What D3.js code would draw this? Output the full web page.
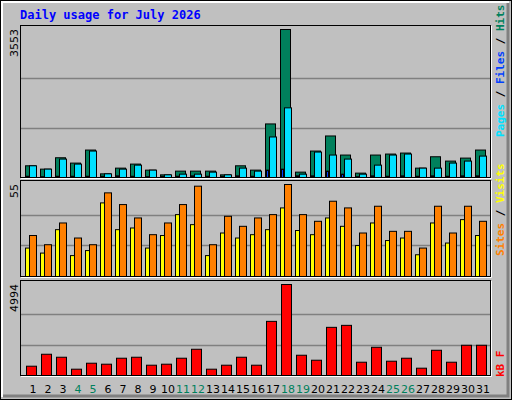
<!DOCTYPE html><html><head><meta charset="utf-8">
<script src="https://cdn.jsdelivr.net/npm/d3@7"></script>
<style>body{margin:0;background:#fff}svg{display:block}</style></head><body>
<script>
const days=d3.range(1,32);
const weekend=[4,5,11,12,18,19,25,26];
const hits=[281,201,474,346,659,88,225,322,177,64,153,153,153,64,281,177,1286,3553,129,635,997,539,105,539,563,587,225,498,394,466,659];
const pages=[281,201,442,322,635,88,201,297,177,64,80,80,129,64,225,153,973,1672,80,611,539,442,80,297,539,563,225,225,346,394,514];
const files=[30,20,30,30,30,30,40,30,20,30,30,40,30,30,40,30,177,200,40,40,153,80,20,40,30,40,30,40,30,40,40];
const sites=[24.5,19,32,23,19,50,43,35,25,32,43,54,19,36,30,35,37,55,37,33,45,41,26,42,27,27,17,42,26,42,33];
const visits=[17,14,28,12.5,15.5,44,28,29,17,24.5,37,31,12.5,26,23,25,28,41,27.5,25,35,30,18.5,32,21.5,23,13,32,20,34,24.5];
const kb=[510,1166,1002,346,674,620,948,1002,565,620,948,1440,346,565,1002,565,2971,4994,1112,838,2643,2752,729,1549,784,948,401,1385,729,1659,1659];
const maxHits=3553,maxSites=55,maxKb=4994;

const W=512,H=400;
const svg=d3.select("body").append("svg").attr("width",W).attr("height",H);
svg.append("rect").attr("x",0).attr("y",0).attr("width",W).attr("height",H).attr("fill","#c0c0c0");
svg.append("rect").attr("x",0.5).attr("y",0.5).attr("width",W-1).attr("height",H-1).attr("fill","none").attr("stroke","#000");
svg.append("path").attr("d","M2,397V2H509").attr("fill","none").attr("stroke","#fff").attr("stroke-width",2);
svg.append("path").attr("d","M3,396H508V3").attr("fill","none").attr("stroke","#808080").attr("stroke-width",3);
svg.append("text").attr("x",20).attr("y",19).text("Daily usage for July 2026")
 .attr("font-family","DejaVu Sans Mono").attr("font-weight","bold").attr("font-size",12).attr("fill","#0000ff");

const x=d3.scaleBand().domain(days).range([25,490]).paddingInner(0).paddingOuter(0);
function panel(y0,y1,max,label){
  svg.append("rect").attr("x",20.5).attr("y",y0+0.5).attr("width",470).attr("height",y1-y0).attr("fill","#c0c0c0").attr("stroke","#000");
  svg.append("path").attr("d",`M21,${y1+1.5}H491.5V${y0+1}`).attr("fill","none").attr("stroke","#fff");
  const y=d3.scaleLinear().domain([0,max]).range([y1,y0+4]);
  [1/3,2/3].forEach(f=>svg.append("line").attr("x1",21).attr("x2",490).attr("y1",Math.round(y(max*f))+0.5).attr("y2",Math.round(y(max*f))+0.5).attr("stroke","#808080").attr("stroke-width",1.5));
  svg.append("text").attr("transform",`translate(18,${y0+4}) rotate(-90)`).attr("text-anchor","end").text(label)
   .attr("font-family","DejaVu Sans").attr("font-size",11).attr("fill","#000");
  return y;
}
function bars(y,data,off,w,color){
  svg.append("g").selectAll("rect").data(data).join("rect")
   .attr("x",(d,i)=>x(days[i])+off+0.5).attr("width",w)
   .attr("y",d=>y(d)+0.5).attr("height",d=>y(0)-y(d)).attr("fill",color).attr("stroke","#000");
}
const y1=panel(25,177,maxHits,"3553");
bars(y1,hits,0,10,"#00805c");
bars(y1,files,1,2,"#0040ff");
bars(y1,pages,4,7,"#00e0ff");
const y2=panel(180,276,maxSites,"55");
bars(y2,visits,0,4,"#ffff00");
bars(y2,sites,4,7,"#ff8000");
const y3=panel(280,375,maxKb,"4994");
bars(y3,kb,1,10,"#ff0000");

svg.append("g").selectAll("text").data(days).join("text")
 .attr("x",d=>x(d)+8).attr("y",393).attr("text-anchor","middle").text(d=>d)
 .attr("font-family","DejaVu Sans").attr("font-size",11).attr("fill",d=>weekend.includes(d)?"#00805c":"#000");

function legend(yb,parts){
  const t=svg.append("text").attr("transform",`translate(504,${yb}) rotate(-90)`)
   .attr("font-family","DejaVu Sans Mono").attr("font-weight","bold").attr("font-size",11);
  parts.forEach(([s,c])=>t.append("tspan").text(s).attr("fill",c));
}
legend(137,[["Pages","#00e0ff"],[" / ","#000"],["Files","#0040ff"],[" / ","#000"],["Hits","#00805c"]]);
legend(256,[["Sites","#ff8000"],[" / ","#000"],["Visits","#ffff00"]]);
legend(377,[["kB F","#ff0000"]]);
</script></body></html>
